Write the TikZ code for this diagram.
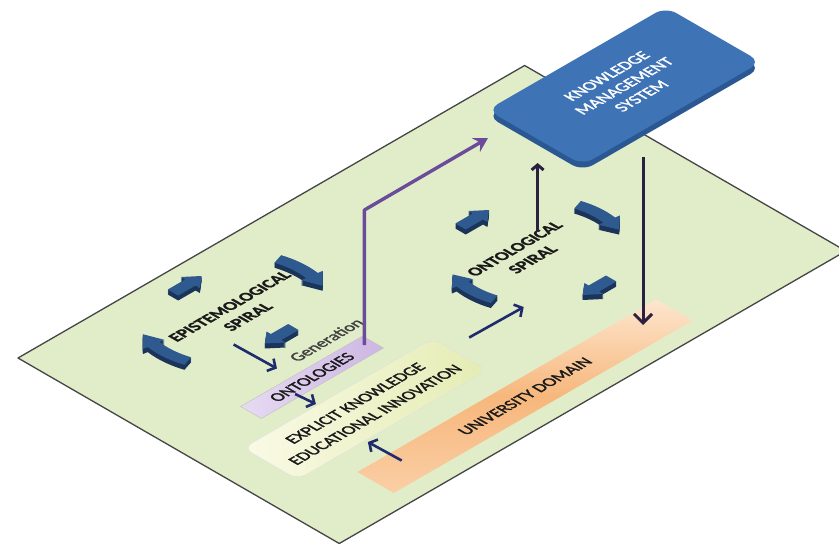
\documentclass[tikz,border=0pt]{standalone}
\usepackage{fontspec}
\setmainfont{Carlito}
\newfontface\lblface{Carlito}[FakeBold=1.6]
\newfontface\spiralface{Carlito Bold}[FakeBold=1]
\usetikzlibrary{arrows.meta}
\definecolor{uPlane}{HTML}{E1EDC9}
\definecolor{uEdge}{HTML}{454545}
\definecolor{uKms}{HTML}{3E73B5}
\definecolor{uKmsRim}{HTML}{2B5892}
\definecolor{uBlk}{HTML}{2F5A90}
\definecolor{uBlkSide}{HTML}{1B3459}
\definecolor{uNavy}{HTML}{1F2B6C}
\definecolor{uDark}{HTML}{2A2140}
\definecolor{uPurple}{HTML}{6A4C9A}
\definecolor{uLav}{HTML}{CDB6E3}
\definecolor{uLavLt}{HTML}{E7DBF3}
\definecolor{uCream}{HTML}{FAFAE6}
\definecolor{uLime}{HTML}{E4ECB3}
\definecolor{uOrange}{HTML}{F7B77C}
\definecolor{uPeach}{HTML}{FDE6CF}
\tikzset{
  % the floor plane: local (a,c) -> a along 30 deg, c along 150 deg
  iso/.style={cm={0.866,0.5,-0.866,0.5,(18,-358)}},
  plane/.style={draw=uEdge, line width=1.3pt, fill=uPlane, line join=round},
  lbl/.style={transform shape, inner sep=0pt, align=center, text=black!90,
              font=\fontsize{17}{21}\lblface},
  spiral/.style={lbl, font=\fontsize{17}{21}\spiralface},
  onto/.style={lbl, draw=black!25, left color=uLavLt, right color=uLav},
  expl/.style={lbl, draw=black!12, rounded corners=10pt,
               left color=uCream, right color=uLime,
               font=\fontsize{17}{23}\lblface},
  uni/.style={lbl, top color=uPeach, bottom color=uPeach!50!uOrange, middle color=uOrange},
  kms/.style={lbl, fill=uKms, rounded corners=12pt, text=white,
              font=\fontsize{17}{20}\lblface},
  flow/.style={uNavy, line width=2.6pt, -{Straight Barb[length=6pt,width=14pt]}},
  feed/.style={uPurple, line width=3.4pt, line join=round,
               -{Stealth[length=14pt,width=16pt,inset=5pt]}},
  rise/.style={uDark, line width=3pt, -{Straight Barb[length=5pt,width=12pt]}},
  drop/.style={uDark, line width=3pt, -{Straight Barb[length=9pt,width=18pt]}},
}
% block arrows of the spirals, drawn in plane coordinates with a dark extrusion
\newcommand{\straightarr}[3]{%
  \foreach \k in {5,4,3,2,1}
    \fill[uBlkSide, shift={(-\k,-\k)}, shift={(#1,#2)}, rotate=#3]
      (-17,-6) -- (3,-6) -- (3,-11) -- (16,0) -- (3,11) -- (3,6) -- (-17,6) -- cycle;
  \fill[uBlk, shift={(#1,#2)}, rotate=#3]
      (-17,-6) -- (3,-6) -- (3,-11) -- (16,0) -- (3,11) -- (3,6) -- (-17,6) -- cycle;
}
\newcommand{\curvepath}[2]{%
  ({#2+18}:{#1+6}) arc[start angle={#2+18}, end angle={#2-8}, radius={#1+6}]
  -- ({#2-8}:{#1+11}) -- ({#2-20}:{#1}) -- ({#2-8}:{#1-11})
  -- ({#2-8}:{#1-6}) arc[start angle={#2-8}, end angle={#2+18}, radius={#1-6}]
  -- cycle}
\newcommand{\curvearr}[4]{%
  \foreach \k in {5,4,3,2,1}
    \fill[uBlkSide, shift={(-\k,-\k)}, shift={(#1,#2)}] \curvepath{#3}{#4};
  \fill[uBlk, shift={(#1,#2)}] \curvepath{#3}{#4};
}

\begin{document}
\begin{tikzpicture}[x=1pt, y=1pt]
\useasboundingbox (0,0) rectangle (839,-544);

\begin{scope}[iso]
%% ── floor and the boxes lying on it ─────────────────────────────────────
\draw[plane] (0,0) -- (585,0) -- (585,-371) -- (0,-371) -- cycle;

\node[uni, minimum width=345pt, minimum height=42pt] (uni) at (254.5,-331)
  {UNIVERSITY DOMAIN};
\node[expl, minimum width=219pt, minimum height=63pt] (expl) at (149.5,-251.5)
  {EXPLICIT KNOWLEDGE\\EDUCATIONAL INNOVATION};
\node[onto, minimum width=141pt, minimum height=24pt] (onto) at (150.5,-189)
  {ONTOLOGIES};
\node[lbl, text=black!75] (gentxt) at (196,-160) {Generation};

%% ── the two spirals ─────────────────────────────────────────────────────
\straightarr{172}{-24}{0}
\straightarr{173}{-128}{180}
\curvearr{172}{-76}{81}{0}
\curvearr{172}{-76}{81}{180}
\node[spiral] (epi) at (174,-81) {EPISTEMOLOGICAL\\SPIRAL};

\straightarr{404}{-124}{0}
\straightarr{405}{-263}{180}
\curvearr{405}{-193}{75}{0}
\curvearr{405}{-193}{75}{180}
\node[spiral] (osp) at (396,-188) {ONTOLOGICAL\\SPIRAL};

%% free ends of the connectors on the floor
\coordinate (epiout) at (138,-111);
\coordinate (ontoin) at (139,-160);
\coordinate (ontoout) at (124,-196);
\coordinate (explin) at (126,-218);
\coordinate (uniout) at (119,-324);
\coordinate (explbot) at (118,-286);
\coordinate (explout) at (281,-240);
\coordinate (ospin) at (343,-241);
\coordinate (gen) at (213,-187);
\coordinate (osptop) at (426,-174);
\end{scope}

\draw[flow] (epiout) -- (ontoin);
\draw[flow] (ontoout) -- (explin);
\draw[flow] (uniout) -- (explbot);
\draw[flow] (explout) -- (ospin);

%% ── up to the management system ─────────────────────────────────────────
\coordinate (bend) at (364.4,-210);
\coordinate (kmsin) at (488,-138);
\coordinate (kmsbot) at (537,-163);
\coordinate (kmsout) at (643,-157);
\coordinate (unitop) at (643,-325);

\draw[feed] (gen) -- (bend) -- (kmsin);
\draw[rise] (osptop) -- (osptop |- kmsbot);

\begin{scope}[iso]
\fill[uKmsRim, rounded corners=12pt] (513,-139) rectangle (719,-29);
\node[kms, minimum width=206pt, minimum height=110pt] (kms) at (622,-78)
  {KNOWLEDGE\\MANAGEMENT\\SYSTEM};
\end{scope}

\draw[drop] (kmsout) -- (kmsout |- unitop);

\end{tikzpicture}
\end{document}
